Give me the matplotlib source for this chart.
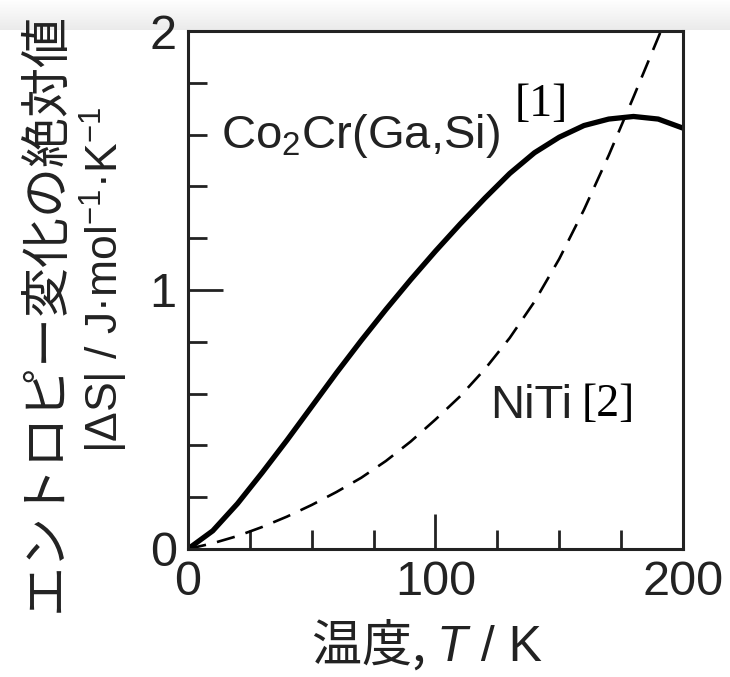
import numpy as np
import matplotlib
matplotlib.use("Agg")
import matplotlib.pyplot as plt
from matplotlib.ticker import MultipleLocator

plt.rcParams["font.family"] = ["Liberation Sans", "Noto Sans CJK JP"]
plt.rcParams["mathtext.fontset"] = "custom"
plt.rcParams["mathtext.rm"] = "Liberation Sans"
plt.rcParams["mathtext.it"] = "Liberation Sans:italic"
plt.rcParams["mathtext.default"] = "regular"

# Co2Cr(Ga,Si): |dS| vs T
t_cocr = [0, 10, 20, 30, 40, 50, 60, 70, 80, 90, 100, 110, 120, 130, 140,
          150, 160, 170, 180, 190, 200]
s_cocr = [0, 0.07, 0.175, 0.295, 0.42, 0.55, 0.68, 0.805, 0.925, 1.04, 1.15,
          1.255, 1.355, 1.45, 1.53, 1.59, 1.635, 1.66, 1.67, 1.66, 1.625]

# NiTi
t_niti = [0, 10, 20, 30, 40, 50, 60, 70, 80, 90, 100, 110, 120, 130, 140,
          150, 160, 170, 180, 190, 195]
s_niti = [0, 0.022, 0.05, 0.085, 0.125, 0.17, 0.22, 0.275, 0.34, 0.415, 0.5,
          0.59, 0.695, 0.815, 0.955, 1.12, 1.31, 1.52, 1.745, 1.975, 2.09]

ink = "#222222"

fig = plt.figure(figsize=(7.3, 6.77), dpi=100)

# light grey band at the top of the screenshot
bg = fig.add_axes([0, 0.955, 1, 0.045], zorder=-5)
shade = np.linspace(0.92, 1.0, 40)
band = np.repeat(shade[::-1, None], 3, axis=1)[:, None, :]
bg.imshow(band, aspect="auto", extent=[0, 1, 0, 1])
bg.axis("off")

ax = fig.add_axes([0.2575, 0.1891, 0.9356 - 0.2575, 0.9542 - 0.1891])
ax.plot(t_cocr, s_cocr, color="black", lw=3.8, solid_capstyle="butt",
        solid_joinstyle="round")
ax.plot(t_niti, s_niti, color="black", lw=1.9, dashes=(7, 4.3))

ax.set_xlim(0, 200)
ax.set_ylim(0, 2)
ax.xaxis.set_major_locator(MultipleLocator(100))
ax.xaxis.set_minor_locator(MultipleLocator(25))
ax.yaxis.set_major_locator(MultipleLocator(1))
ax.yaxis.set_minor_locator(MultipleLocator(0.2))
ax.tick_params(which="both", direction="in", width=2, color=ink,
               labelsize=35, labelcolor=ink, top=False, right=False)
ax.tick_params(which="major", length=25, pad=8)
ax.tick_params(which="minor", length=14)
for sp in ax.spines.values():
    sp.set_linewidth(2.2)
    sp.set_color(ink)

ax.text(13.5, 1.55, "Co$_2$Cr(Ga,Si)", fontsize=34, color=ink, ha="left", va="baseline")
ax.text(132, 1.67, "[1]", fontsize=33, color="black", family="Liberation Serif",
        ha="left", va="baseline")
ax.text(122, 0.505, "NiTi", fontsize=34, color=ink, ha="left", va="baseline")
ax.text(159, 0.515, "[2]", fontsize=33, color="black", family="Liberation Serif",
        ha="left", va="baseline")

# y label: two rotated lines
fig.text(0.062, 0.539, "エントロピー変化の絶対値", rotation=90, fontsize=36,
         family="Noto Sans CJK JP", color=ink, ha="center", va="center")
fig.text(0.143, 0.586, "|ΔS| / J·mol$^{-1}$·K$^{-1}$", rotation=90, fontsize=32,
         color=ink, ha="center", va="center")

# x label: CJK part, italic T, then unit
fig.canvas.draw()
r = fig.canvas.get_renderer()
parts = [("温度, ", "Noto Sans CJK JP", "normal"),
         ("T", "Liberation Sans", "italic"),
         (" / K", "Liberation Sans", "normal")]
texts = []
for s, fam, sty in parts:
    texts.append(fig.text(0, 0.024, s, fontsize=36, family=fam, style=sty,
                          color=ink, ha="left", va="baseline"))
widths = [t.get_window_extent(r).width for t in texts]
x = 0.585 * 730 - sum(widths) / 2
for t, w in zip(texts, widths):
    t.set_x(x / 730)
    x += w

fig.savefig("out.png", dpi=100)
